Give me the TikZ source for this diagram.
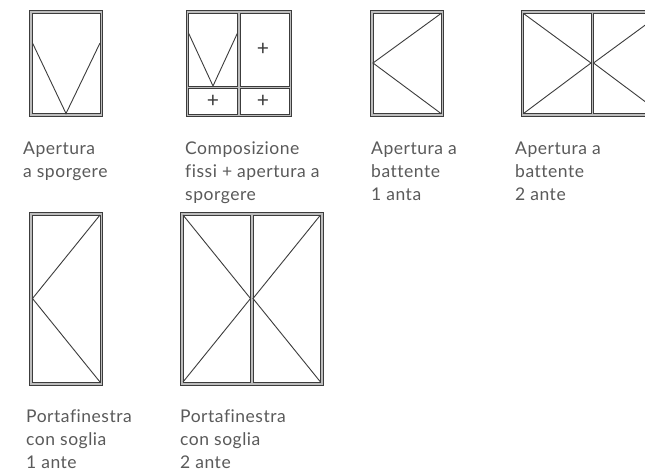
\documentclass[tikz,border=0pt]{standalone}
\usepackage{fontspec}
\setmainfont[Ligatures=NoCommon, LetterSpace=3]{Lato}
\usepackage{tikz}
\definecolor{framegray}{HTML}{3C3C3C}
\definecolor{bandgray}{HTML}{BDBDBD}
\definecolor{labelgray}{HTML}{5A5A5A}
\tikzset{
  outerframe/.style={draw=framegray, fill=bandgray, line width=1pt},
  innerframe/.style={draw=framegray, fill=white, line width=1pt},
  opening/.style={draw=framegray, line width=0.9pt},
  caption/.style={anchor=north west, align=left, inner sep=0pt, text=labelgray,
    font=\fontsize{17.5}{23.2}\selectfont},
  fixedmark/.style={text=framegray, inner sep=0pt, font=\fontsize{21}{21}\selectfont}
}
\begin{document}
\begin{tikzpicture}[x=1pt, y=-1pt]
  \clip (0,0) rectangle (645,472);
  \fill[white] (0,0) rectangle (645,472);

  % top row
  \draw[outerframe] (29,10.5) rectangle (102.5,116);
  \draw[innerframe] (32.5,13.5) rectangle (100,113.5);
  \draw[opening] (32.5,43) -- (66,113.5) -- (100,43);
  \node[caption] at (23,141.5) (A) {Apertura\\a sporgere};

  \draw[outerframe] (186,10.5) rectangle (291,116);
  \draw[innerframe] (188.5,13) rectangle (237.5,86);
  \draw[innerframe] (240.5,13) rectangle (289,86);
  \draw[innerframe] (188.5,88.5) rectangle (237.5,114);
  \draw[innerframe] (240.5,88.5) rectangle (289,114);
  \draw[opening] (188.5,33) -- (213,86) -- (237.5,33);
  \node[fixedmark] at (263,49.5) (P) {+};
  \node[fixedmark] at (213,101.5) (Q) {+};
  \node[fixedmark] at (263,101.5) (R) {+};
  \node[caption] at (185,141.5) (B) {Composizione\\fissi + apertura a\\sporgere};

  \draw[outerframe] (370,10.5) rectangle (443,116);
  \draw[innerframe] (373,13.5) rectangle (441,113.5);
  \draw[opening] (441,13.5) -- (373,63) -- (441,113.5);
  \node[caption] at (371,141.5) (C) {Apertura a\\battente\\1 anta};

  \draw[outerframe] (521,10.5) rectangle (664,116);
  \draw[innerframe] (523.5,13.5) rectangle (591,113.5);
  \draw[innerframe] (593.5,13.5) rectangle (661,113.5);
  \draw[opening] (523.5,13.5) -- (591,63) -- (523.5,113.5);
  \draw[opening] (661,13.5) -- (593.5,63) -- (661,113.5);
  \node[caption] at (515,141.5) (D) {Apertura a\\battente\\2 ante};

  % bottom row
  \draw[outerframe] (29,212) rectangle (102.5,385);
  \draw[innerframe] (32.5,215) rectangle (100,382);
  \draw[opening] (100,215) -- (32.5,298.5) -- (100,382);
  \node[caption] at (26,409.5) (E) {Portafinestra\\con soglia\\1 ante};

  \draw[outerframe] (180,212) rectangle (323.5,385);
  \draw[innerframe] (183,215) rectangle (250.5,382);
  \draw[innerframe] (253,215) rectangle (320.5,382);
  \draw[opening] (183,215) -- (250.5,298.5) -- (183,382);
  \draw[opening] (320.5,215) -- (253,298.5) -- (320.5,382);
  \node[caption] at (180,409.5) (F) {Portafinestra\\con soglia\\2 ante};
\end{tikzpicture}
\end{document}
